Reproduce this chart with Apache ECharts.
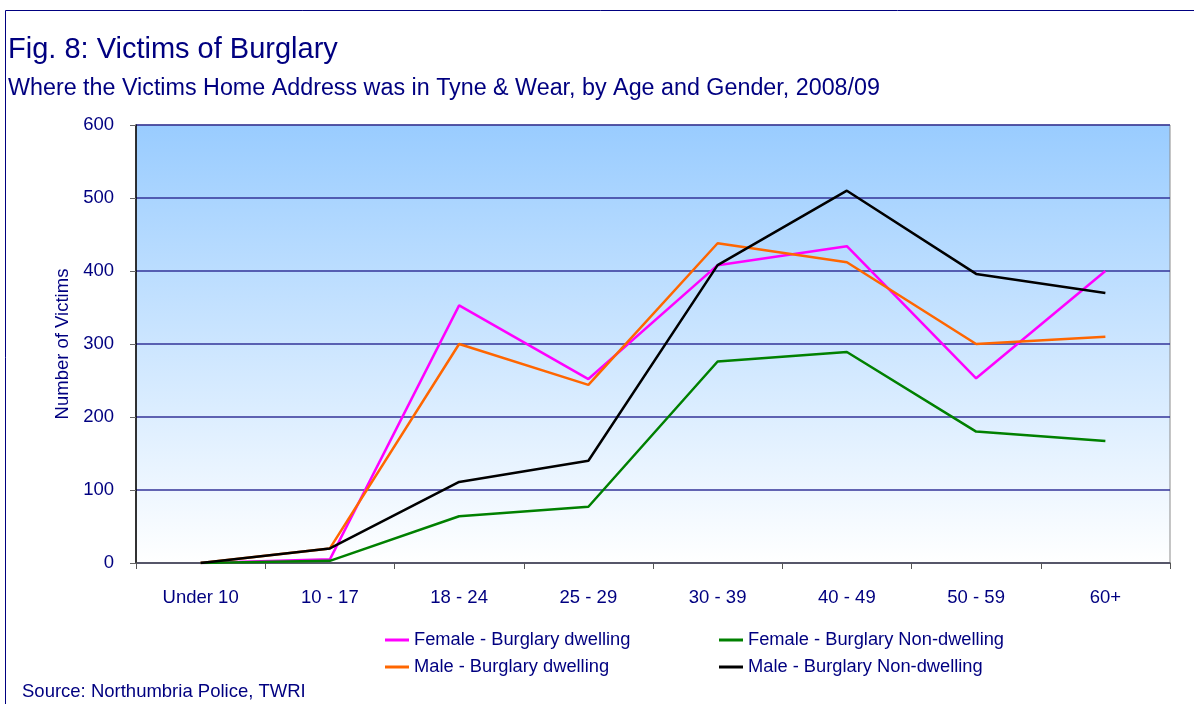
<!DOCTYPE html>
<html>
<head>
<meta charset="utf-8">
<title>Fig. 8: Victims of Burglary</title>
<script src="https://cdn.jsdelivr.net/npm/echarts@6/dist/echarts.min.js"></script>
<style>
  html, body { margin: 0; padding: 0; background: #fff; }
  #app { width: 1194px; height: 704px; }
</style>
</head>
<body>
<div id="app"></div>
<script>
const ageGroups = ["Under 10", "10 - 17", "18 - 24", "25 - 29", "30 - 39", "40 - 49", "50 - 59", "60+"];
const femaleDwelling = [0, 5, 353, 252, 408, 434, 253, 400];
const maleDwelling = [0, 20, 300, 244, 438, 412, 300, 310];
const femaleNonDwelling = [0, 3, 64, 77, 276, 289, 180, 167];
const maleNonDwelling = [0, 20, 111, 140, 408, 510, 396, 370];

const navy = "#000080";
const font = "Liberation Sans, Arial, sans-serif";

const myChart = echarts.init(document.getElementById("app"));

function lineSeries(name, data, color) {
  return {
    name: name,
    type: "line",
    data: data,
    symbol: "none",
    lineStyle: { color: color, width: 2.5 },
    itemStyle: { color: color },
    animation: false,
  };
}

const legendText = { color: navy, fontSize: 18.3, fontFamily: font };

const option = {
  backgroundColor: "#fff",
  textStyle: { fontFamily: font },
  title: [
    {
      text: "Fig. 8: Victims of Burglary",
      left: 3,
      top: 30,
      textStyle: { color: navy, fontSize: 29, fontWeight: "normal", fontFamily: font },
    },
    {
      text: "Where the Victims Home Address was in Tyne & Wear, by Age and Gender, 2008/09",
      left: 3,
      top: 72,
      textStyle: { color: navy, fontSize: 23.3, fontWeight: "normal", fontFamily: font },
    },
    {
      text: "Source: Northumbria Police, TWRI",
      left: 17,
      top: 677,
      textStyle: { color: navy, fontSize: 18.5, fontWeight: "normal", fontFamily: font },
    },
  ],
  graphic: [
    {
      type: "rect",
      shape: { x: 5.5, y: 10.5, width: 1200, height: 700 },
      style: { fill: "none", stroke: "#000080", lineWidth: 1 },
      silent: true,
    },
  ],
  legend: [
    {
      data: ["Female - Burglary dwelling", "Male - Burglary dwelling"],
      orient: "vertical",
      left: 380,
      top: 626,
      itemGap: 9,
      itemWidth: 24,
      itemHeight: 3,
      icon: "rect",
      textStyle: legendText,
    },
    {
      data: ["Female - Burglary Non-dwelling", "Male - Burglary Non-dwelling"],
      orient: "vertical",
      left: 714,
      top: 626,
      itemGap: 9,
      itemWidth: 24,
      itemHeight: 3,
      icon: "rect",
      textStyle: legendText,
    },
  ],
  grid: {
    left: 136,
    right: 24,
    top: 125,
    bottom: 141,
    show: true,
    borderColor: "#8c8c8c",
    borderWidth: 1,
    backgroundColor: {
      type: "linear",
      x: 0,
      y: 0,
      x2: 0,
      y2: 1,
      colorStops: [
        { offset: 0, color: "#99CCFF" },
        { offset: 1, color: "#FFFFFF" },
      ],
    },
  },
  xAxis: {
    type: "category",
    data: ageGroups,
    boundaryGap: true,
    axisLine: { lineStyle: { color: "#555", width: 1.5 } },
    axisTick: { show: true, length: 6, lineStyle: { color: "#555" } },
    axisLabel: { color: navy, fontSize: 18.5, margin: 25, fontFamily: font },
    splitLine: { show: false },
  },
  yAxis: {
    type: "value",
    min: 0,
    max: 600,
    interval: 100,
    name: "Number of Victims",
    nameLocation: "middle",
    nameGap: 60,
    nameTextStyle: { color: navy, fontSize: 18.5, fontFamily: font },
    axisLine: { show: true, lineStyle: { color: "#000", width: 1.5 } },
    axisTick: { show: true, length: 6, lineStyle: { color: "#666" } },
    axisLabel: { color: navy, fontSize: 18.5, margin: 22, fontFamily: font },
    splitLine: { show: true, lineStyle: { color: "#333399", width: 1.5 } },
  },
  series: [
    lineSeries("Female - Burglary dwelling", femaleDwelling, "#FF00FF"),
    lineSeries("Male - Burglary dwelling", maleDwelling, "#FF6600"),
    lineSeries("Female - Burglary Non-dwelling", femaleNonDwelling, "#008000"),
    lineSeries("Male - Burglary Non-dwelling", maleNonDwelling, "#000000"),
  ],
};

myChart.setOption(option);
</script>
</body>
</html>
